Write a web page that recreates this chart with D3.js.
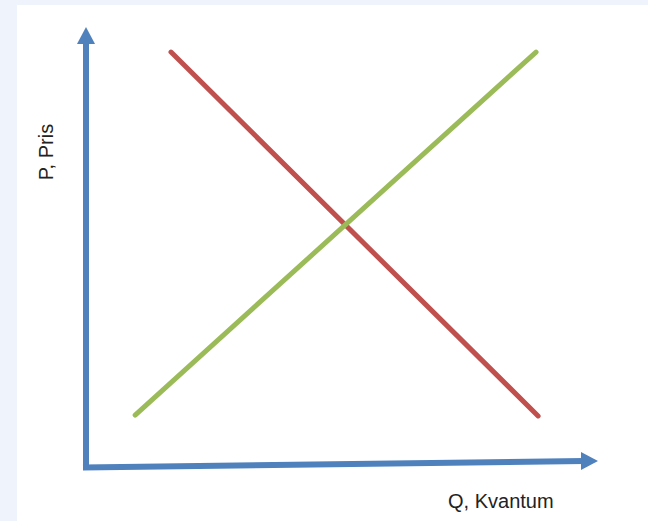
<!DOCTYPE html>
<html>
<head>
<meta charset="utf-8">
<script src="https://cdn.jsdelivr.net/npm/d3@7"></script>
<style>
    html, body { margin: 0; padding: 0; background: #eff3fb; }
    svg { display: block; }
</style>
</head>
<body>
<script>
"use strict";

// Demand (red) and supply (green) lines, [quantity, price]
const demand = [[1.66, 9.43], [8.83, 1.16]];
const supply = [[0.96, 1.18], [8.79, 9.43]];
const xLabel = "Q, Kvantum";
const yLabel = "P, Pris";

(function () {
    const width = 648, height = 521;

    const svg = d3.select("body").append("svg")
        .attr("width", width)
        .attr("height", height);

    // white panel, light blue band on top and left
    svg.append("rect")
        .attr("x", 17).attr("y", 5)
        .attr("width", width - 17).attr("height", height - 5)
        .attr("fill", "#ffffff");

    const x = d3.scaleLinear().domain([0, 10]).range([86, 598]);
    const y = d3.scaleLinear().domain([0, 10]).range([467, 27]);

    const line = d3.line()
        .x(d => x(d[0]))
        .y(d => y(d[1]));

    svg.append("path")
        .attr("d", line(demand))
        .attr("fill", "none")
        .attr("stroke", "#c0504d")
        .attr("stroke-width", 5)
        .attr("stroke-linecap", "round");

    svg.append("path")
        .attr("d", line(supply))
        .attr("fill", "none")
        .attr("stroke", "#9bbb59")
        .attr("stroke-width", 5)
        .attr("stroke-linecap", "round");

    // axes drawn as arrows
    const axisColor = "#4f81bd";
    const x0 = x(0), y0 = y(0);

    // y axis
    svg.append("line")
        .attr("x1", x0).attr("y1", y0 + 3)
        .attr("x2", x0).attr("y2", y(10) + 14)
        .attr("stroke", axisColor)
        .attr("stroke-width", 6);
    svg.append("path")
        .attr("d", `M${x0},${y(10)} L${x0 + 9},${y(10) + 17} L${x0 - 9},${y(10) + 17} Z`)
        .attr("fill", axisColor);

    // x axis (slightly tilted, as in the original drawing)
    const tipY = y0 - 6;
    svg.append("line")
        .attr("x1", x0 - 3).attr("y1", y0 + 0.5)
        .attr("x2", x(10) - 14).attr("y2", tipY)
        .attr("stroke", axisColor)
        .attr("stroke-width", 6);
    svg.append("path")
        .attr("d", `M${x(10)},${tipY} L${x(10) - 17},${tipY - 9} L${x(10) - 17},${tipY + 9} Z`)
        .attr("fill", axisColor);

    svg.append("text")
        .attr("x", 448)
        .attr("y", 508)
        .attr("font-family", "Liberation Sans, Arial, sans-serif")
        .attr("font-size", 20)
        .attr("fill", "#222")
        .text(xLabel);

    svg.append("text")
        .attr("transform", "translate(53,152) rotate(-90)")
        .attr("text-anchor", "middle")
        .attr("font-family", "Liberation Sans, Arial, sans-serif")
        .attr("font-size", 20)
        .attr("fill", "#222")
        .text(yLabel);
})();
</script>
</body>
</html>
